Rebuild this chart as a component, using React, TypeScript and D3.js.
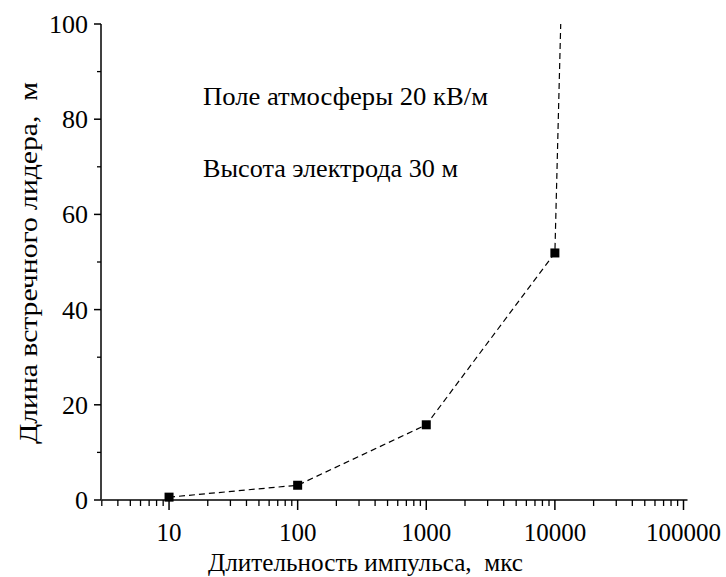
import React from 'react';
import * as d3 from 'd3';

// measured points
const pulseUs = [10, 100, 1000, 10000];
const leaderLen = [0.6, 3.1, 15.8, 51.9];
// dashed curve continues upward past the last point
const curveX = [10, 100, 1000, 10000, 11100];
const curveY = [0.6, 3.1, 15.8, 51.9, 100];

const xMajor = [10, 100, 1000, 10000, 100000];
const yMajor = [0, 20, 40, 60, 80, 100];
const yMinor = [10, 30, 50, 70, 90];

const notes = ['Поле атмосферы 20 кВ/м', 'Высота электрода 30 м'];
const xTitle = 'Длительность импульса,  мкс';
const yTitle = 'Длина встречного лидера,  м';

const FONT = 'Liberation Serif';

const x = d3.scaleLog().domain([3, 100000]).range([101.8, 683.5]);
const y = d3.scaleLinear().domain([0, 100]).range([500, 24]);

// minor log ticks 2..9 per decade inside the domain
const minorX: number[] = [];
[1, 10, 100, 1000, 10000].forEach(d => {
  for (let k = 2; k <= 9; k++) if (d * k >= 3 && d * k < 100000) minorX.push(d * k);
});

const curve = d3.line<number>()
  .x((d, i) => x(curveX[i]))
  .y(d => y(d));

const App = () => {
  const y0 = y(0);
  return (
    <div style={{ position: 'absolute', left: 0, top: 0 }}>
      <svg width={726} height={577}>
        <rect width={726} height={577} fill="#fff" />

        {/* x axis */}
        <line x1={x(3)} x2={x(100000) + 4} y1={y0} y2={y0} stroke="#000" strokeWidth={1.5} />
        {minorX.map(d => (
          <line key={'mx' + d} x1={x(d)} x2={x(d)} y1={y0} y2={y0 + 6} stroke="#000" strokeWidth={1.3} />
        ))}
        {xMajor.map(d => (
          <line key={'Mx' + d} x1={x(d)} x2={x(d)} y1={y0} y2={y0 + 10} stroke="#000" strokeWidth={1.5} />
        ))}
        {xMajor.map(d => (
          <text key={'tx' + d} x={x(d)} y={541} textAnchor="middle" fontFamily={FONT} fontSize={25}>
            {String(d)}
          </text>
        ))}

        {/* y axis */}
        <line x1={101} x2={101} y1={y0} y2={y(100)} stroke="#000" strokeWidth={1.5} />
        {yMinor.map(d => (
          <line key={'my' + d} x1={97} x2={101} y1={y(d)} y2={y(d)} stroke="#000" strokeWidth={1.3} />
        ))}
        {yMajor.map(d => (
          <line key={'My' + d} x1={94} x2={101} y1={y(d)} y2={y(d)} stroke="#000" strokeWidth={1.5} />
        ))}
        {yMajor.map(d => (
          <text key={'ty' + d} x={88} y={y(d) + 9} textAnchor="end" fontFamily={FONT} fontSize={26}>
            {String(d)}
          </text>
        ))}

        {/* titles */}
        <text
          x={208}
          y={571}
          fontFamily={FONT}
          fontSize={26}
          textLength={315}
          lengthAdjust="spacingAndGlyphs"
          style={{ whiteSpace: 'pre' }}
        >
          {xTitle}
        </text>
        <text
          transform="translate(37,444) rotate(-90)"
          fontFamily={FONT}
          fontSize={26}
          textLength={362}
          lengthAdjust="spacingAndGlyphs"
          style={{ whiteSpace: 'pre' }}
        >
          {yTitle}
        </text>

        {/* annotations */}
        {notes.map((t, i) => (
          <text
            key={t}
            x={203}
            y={105 + i * 72}
            fontFamily={FONT}
            fontSize={26}
            textLength={i === 0 ? 285 : 255}
            lengthAdjust="spacingAndGlyphs"
          >
            {t}
          </text>
        ))}

        {/* dashed curve */}
        <path d={curve(curveY) ?? ''} fill="none" stroke="#000" strokeWidth={1.2} strokeDasharray="6,4" />

        {/* markers */}
        {leaderLen.map((v, i) => (
          <rect key={'p' + i} x={x(pulseUs[i]) - 4.5} y={y(v) - 4.5} width={9} height={9} fill="#000" />
        ))}
      </svg>
    </div>
  );
};

export default App;
